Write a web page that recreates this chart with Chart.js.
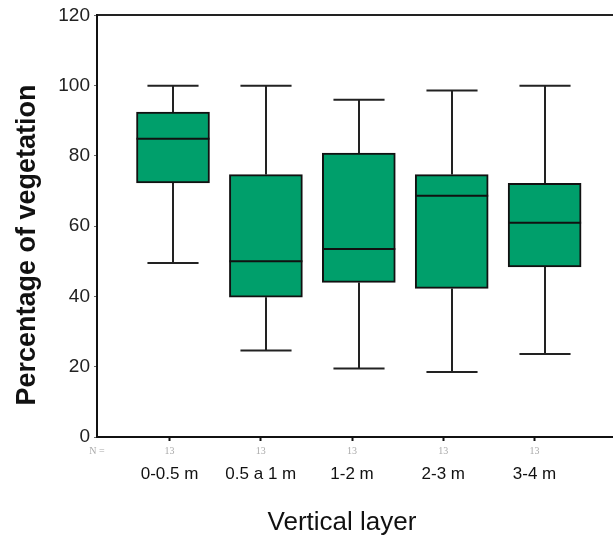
<!DOCTYPE html>
<html>
<head>
<meta charset="utf-8">
<script src="https://cdn.jsdelivr.net/npm/chart.js@4/dist/chart.umd.min.js"></script>
<style>
  html, body { margin: 0; padding: 0; background: #fff; }
  #wrap { width: 613px; height: 535px; position: relative; }
</style>
</head>
<body>
<div id="wrap"><canvas id="chart"></canvas></div>
<script>
// box plot values
const categories = ['0-0.5 m', '0.5 a 1 m', '1-2 m', '2-3 m', '3-4 m'];
const nCounts = [13, 13, 13, 13, 13];
const whiskerLow = [49.5, 24.6, 19.5, 18.5, 23.6];
const q1 = [72.3, 39.8, 44.0, 42.3, 48.4];
const median = [84.9, 50.0, 53.5, 68.7, 61.0];
const q3 = [92.5, 74.7, 80.8, 74.7, 72.2];
const whiskerHigh = [100, 100, 96.0, 98.6, 100];
const yTicks = [0, 20, 40, 60, 80, 100, 120];

const boxData = categories.map((c, i) => ({ x: i, y: [q1[i], q3[i]] }));

// whiskers, caps and median lines drawn from the data through the scales
const boxPlugin = {
    id: 'boxPlugin',
    beforeDatasetsDraw(chart) {
        const ctx = chart.ctx;
        const y = chart.scales.y;
        const bars = chart.getDatasetMeta(0).data;
        ctx.save();
        ctx.strokeStyle = '#222';
        ctx.lineWidth = 2;
        bars.forEach((bar, i) => {
            const cx = Math.round(bar.x);
            const cap = bar.width * 0.35;
            const yHi = y.getPixelForValue(whiskerHigh[i]);
            const yLo = y.getPixelForValue(whiskerLow[i]);
            ctx.beginPath();
            ctx.moveTo(cx, yHi); ctx.lineTo(cx, y.getPixelForValue(q3[i]));
            ctx.moveTo(cx, yLo); ctx.lineTo(cx, y.getPixelForValue(q1[i]));
            ctx.moveTo(cx - cap, yHi); ctx.lineTo(cx + cap, yHi);
            ctx.moveTo(cx - cap, yLo); ctx.lineTo(cx + cap, yLo);
            ctx.stroke();
        });
        ctx.restore();
    },
    afterDatasetsDraw(chart) {
        const ctx = chart.ctx;
        const y = chart.scales.y;
        const bars = chart.getDatasetMeta(0).data;
        ctx.save();
        ctx.strokeStyle = '#111';
        ctx.lineWidth = 2;
        bars.forEach((bar, i) => {
            const ym = y.getPixelForValue(median[i]);
            ctx.beginPath();
            ctx.moveTo(bar.x - bar.width / 2, ym);
            ctx.lineTo(bar.x + bar.width / 2, ym);
            ctx.stroke();
        });
        ctx.restore();
    },
    afterDraw(chart) {
        const ctx = chart.ctx;
        ctx.save();
        ctx.fillStyle = '#111';
        ctx.textAlign = 'center';
        ctx.textBaseline = 'alphabetic';
        ctx.font = '26px "Liberation Sans", Arial, sans-serif';
        ctx.fillText('Vertical layer', 342, 530);
        ctx.translate(35, 245);
        ctx.rotate(-Math.PI / 2);
        ctx.font = 'bold 27px "Liberation Sans", Arial, sans-serif';
        ctx.fillText('Percentage of vegetation', 0, 0);
        ctx.restore();
    }
};

const labelMin = -0.795, labelMax = 4.86;

new Chart(document.getElementById('chart'), {
    type: 'bar',
    data: {
        datasets: [{
            data: boxData,
            backgroundColor: '#009f6b',
            borderColor: '#111',
            borderWidth: 2,
            borderSkipped: false,
            barThickness: 73,
            xAxisID: 'x',
            yAxisID: 'y'
        }]
    },
    options: {
        responsive: true,
        maintainAspectRatio: false,
        animation: false,
        layout: { padding: { top: 15, left: 0, right: 0, bottom: 0 } },
        plugins: { legend: { display: false }, tooltip: { enabled: false } },
        scales: {
            x: {
                type: 'linear', display: false, min: -0.818, max: 4.736,
                offset: false, grid: { offset: false }
            },
            xTop: {
                type: 'linear', position: 'top', min: 0, max: 1, offset: false,
                ticks: { display: false },
                grid: { display: false, drawTicks: false, offset: false },
                border: { display: true, color: '#222', width: 2 },
                afterFit(s) { s.height = 0; }
            },
            y: {
                min: 0, max: 120,
                afterBuildTicks(s) { s.ticks = yTicks.map(v => ({ value: v })); },
                ticks: {
                    color: '#222', padding: 4,
                    font: { family: '"Liberation Sans", Arial, sans-serif', size: 19 }
                },
                grid: { drawOnChartArea: false, tickLength: 3, tickColor: '#666', tickWidth: 1 },
                border: { display: true, color: '#111', width: 2 },
                afterFit(s) { s.width = 97; }
            },
            n: {
                type: 'linear', position: 'bottom', weight: 1, offset: false,
                min: labelMin, max: labelMax,
                afterBuildTicks(s) { s.ticks = [{ value: labelMin }].concat(nCounts.map((n, i) => ({ value: i }))); },
                ticks: {
                    autoSkip: false, maxRotation: 0, padding: 4, color: '#aaa',
                    font: { family: '"Liberation Serif", "Times New Roman", serif', size: 10 },
                    callback: (v, i) => i === 0 ? 'N =' : String(nCounts[i - 1])
                },
                grid: {
                    drawOnChartArea: false, offset: false, tickLength: 4, tickWidth: 2,
                    tickColor: (c) => c.index === 0 ? 'rgba(0,0,0,0)' : '#111'
                },
                border: { display: true, color: '#111', width: 2 },
                afterFit(s) { s.height = 24; }
            },
            cat: {
                type: 'linear', position: 'bottom', weight: 2, offset: false,
                min: labelMin, max: labelMax,
                afterBuildTicks(s) { s.ticks = categories.map((c, i) => ({ value: i })); },
                ticks: {
                    autoSkip: false, maxRotation: 0, padding: 3, color: '#111',
                    font: { family: '"Liberation Sans", Arial, sans-serif', size: 17 },
                    callback: (v, i) => categories[i]
                },
                grid: { display: false, drawTicks: false, offset: false },
                border: { display: false },
                afterFit(s) { s.height = 74; }
            }
        }
    },
    plugins: [boxPlugin]
});
</script>
</body>
</html>
